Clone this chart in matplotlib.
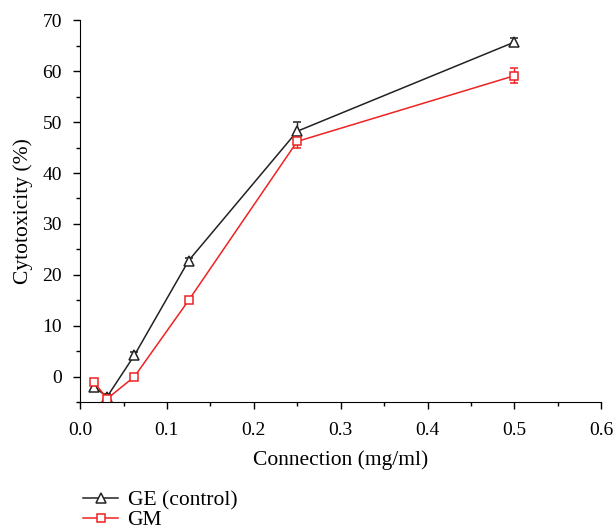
import matplotlib as mpl
from matplotlib import pyplot as plt
from matplotlib.lines import Line2D
from matplotlib.ticker import MultipleLocator, FormatStrFormatter

# Concentrations (mg/ml) and cytotoxicity readings (%)
conc = [0.015625, 0.03125, 0.0625, 0.125, 0.25, 0.5]
ge_vals = [-2.0, -3.9, 4.2, 22.8, 48.2, 65.7]
ge_err = [0.8, 0.5, 0.6, 0.6, 1.8, 0.8]
gm_vals = [-1.0, -4.3, 0.0, 15.0, 46.2, 59.1]
gm_err = [0.6, 0.5, 0.4, 0.5, 1.2, 1.5]

GE_COLOR = '#222222'
GM_COLOR = '#ee2222'

mpl.rc('font', family=['Liberation Serif', 'DejaVu Serif'])
mpl.rc('axes', labelsize=15.5)
mpl.rc('xtick', labelsize=14)
mpl.rc('ytick', labelsize=14)

fig = plt.figure(figsize=(6.16, 5.32), dpi=100)
ax = fig.add_axes([0.13, 0.244, 0.846, 0.718])

ax.errorbar(conc, ge_vals, yerr=ge_err, color=GE_COLOR, marker='^',
            markersize=7, markerfacecolor='white', markeredgewidth=1.1,
            linewidth=1.1, capsize=3, elinewidth=1)
ax.errorbar(conc, gm_vals, yerr=gm_err, color=GM_COLOR, marker='s',
            markersize=6, markerfacecolor='white', markeredgewidth=1.1,
            linewidth=1.1, capsize=3, elinewidth=1)

ax.set_xlim(0, 0.6)
ax.set_ylim(-5, 70)
ax.xaxis.set_major_locator(MultipleLocator(0.1))
ax.xaxis.set_minor_locator(MultipleLocator(0.05))
ax.xaxis.set_major_formatter(FormatStrFormatter('%.1f'))
ax.yaxis.set_major_locator(MultipleLocator(10))
ax.yaxis.set_minor_locator(MultipleLocator(5))
ax.tick_params(which='major', direction='out', length=5, width=1)
ax.tick_params(which='minor', direction='out', length=3, width=1)
ax.tick_params(axis='x', which='major', pad=9.5)
ax.tick_params(axis='y', which='major', pad=8)
ax.spines['top'].set_visible(False)
ax.spines['right'].set_visible(False)

ax.set_xlabel('Connection (mg/ml)', labelpad=8)
ax.set_ylabel('Cytotoxicity (%)', labelpad=7)

handles = [Line2D([], [], color=GE_COLOR, marker='^', markersize=7,
                  markerfacecolor='white', markeredgewidth=1.1, linewidth=1.1),
           Line2D([], [], color=GM_COLOR, marker='s', markersize=6,
                  markerfacecolor='white', markeredgewidth=1.1, linewidth=1.1)]
fig.legend(handles=handles, labels=['GE (control)', 'GM'],
           loc='upper left', bbox_to_anchor=(0.118, 0.099), frameon=False,
           fontsize=15.5, handlelength=1.6, handletextpad=0.45,
           labelspacing=0.0, borderpad=0)

fig.savefig('out.png', dpi=100)
